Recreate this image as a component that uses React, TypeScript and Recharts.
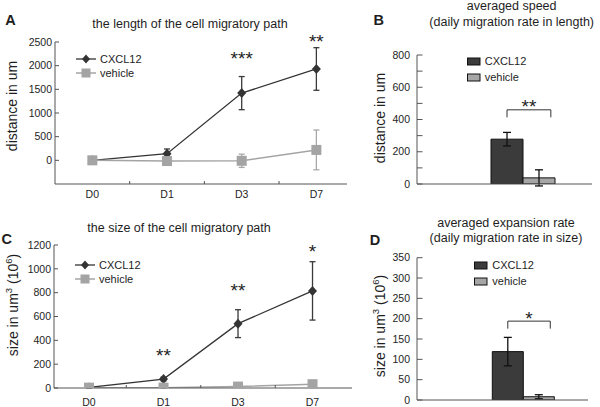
import React from "react";
import { LineChart, Line, BarChart, Bar, XAxis, YAxis, ErrorBar, Legend, LabelList } from "recharts";

const TEXT = "#1e1e1e";
const AXIS = "#555";
const DARK = "#343434";
const GREY = "#a4a4a4";
const FONT = "'Liberation Sans', Arial, sans-serif";

const days = ["D0", "D1", "D3", "D7"];

// A: length of the migratory path (um)
const lengthCxcl = [0, 140, 1420, 1930];
const lengthCxclErr = [15, 100, 350, 450];
const lengthVehicle = [0, -15, -10, 220];
const lengthVehicleErr = [15, 20, 140, 420];
const lengthStars = ["", "", "***", "**"];
const lengthStarY = [null, null, 2253, 2612];
const lengthTicks = [0, 500, 1000, 1500, 2000, 2500];

// C: size of the migratory path (um3, 10^6)
const sizeCxcl = [5, 75, 540, 815];
const sizeCxclErr = [3, 15, 117, 245];
const sizeVehicle = [3, 3, 12, 32];
const sizeVehicleErr = [2, 2, 6, 12];
const sizeStars = ["", "**", "**", "*"];
const sizeStarY = [null, 311, 852, 1186];
const sizeTicks = [0, 200, 400, 600, 800, 1000, 1200];

// B: averaged speed
const rateGroups = ["daily rate"];
const speedCxcl = [278];
const speedCxclErr = [42];
const speedVehicle = [38];
const speedVehicleErr = [50];
const speedStars = ["**"];
const speedBracket = [460];
const speedTicks = [0, 100, 200, 300, 400, 500, 600, 700, 800];

// D: averaged expansion rate
const expansionCxcl = [119];
const expansionCxclErr = [35];
const expansionVehicle = [8];
const expansionVehicleErr = [5];
const expansionStars = ["*"];
const expansionBracket = [194];
const expansionTicks = [0, 50, 100, 150, 200, 250, 300, 350];

const dayTickValues = [0, 0.5, 1, 1.5, 2, 2.5, 3];

const lineRows = (cx: number[], cxErr: number[], veh: number[], vehErr: number[], stars: string[], starY: (number | null)[]) =>
  days.map((d, i) => ({ x: i, day: d, cx: cx[i], cxErr: cxErr[i], veh: veh[i], vehErr: vehErr[i], sig: stars[i], starY: starY[i] }));

const barRows = (cx: number[], cxErr: number[], veh: number[], vehErr: number[]) =>
  rateGroups.map((g, i) => ({ group: g, cx: cx[i], cxErr: cxErr[i], veh: veh[i], vehErr: vehErr[i] }));

const lengthData = lineRows(lengthCxcl, lengthCxclErr, lengthVehicle, lengthVehicleErr, lengthStars, lengthStarY);
const sizeData = lineRows(sizeCxcl, sizeCxclErr, sizeVehicle, sizeVehicleErr, sizeStars, sizeStarY);
const speedData = barRows(speedCxcl, speedCxclErr, speedVehicle, speedVehicleErr);
const expansionData = barRows(expansionCxcl, expansionCxclErr, expansionVehicle, expansionVehicleErr);

const Diamond = (p: any) =>
  p.cx == null || p.cy == null ? null : (
    <path key={`dm-${p.index}`} d={`M${p.cx},${p.cy - 5}L${p.cx + 4.5},${p.cy}L${p.cx},${p.cy + 5}L${p.cx - 4.5},${p.cy}Z`} fill={DARK} />
  );

const Square = (p: any) =>
  p.cx == null || p.cy == null ? null : <rect key={`sq-${p.index}`} x={p.cx - 5} y={p.cy - 5} width={10} height={10} fill={GREY} />;

const dayTick = (labelDy: number) => (p: any) => {
  const v = p.payload.value;
  if (Number.isInteger(v)) {
    return (
      <text x={p.x} y={p.y + labelDy} textAnchor="middle" fontSize={10.5} fill={TEXT}>
        {days[v]}
      </text>
    );
  }
  return <line x1={p.x} x2={p.x} y1={p.y} y2={p.y - 3} stroke={AXIS} />;
};

const starLabel = (p: any) => {
  if (!p.value) return null;
  const x = p.x ?? p.viewBox?.x;
  const y = p.y ?? p.viewBox?.y;
  if (x == null || y == null) return null;
  return (
    <text x={x} y={y + 11} textAnchor="middle" fontSize={19} fill={TEXT}>
      {p.value}
    </text>
  );
};

const bracketLabel = (levels: number[], stars: string[]) => (p: any) => {
  const vb = p.viewBox ?? {};
  const x = p.x ?? vb.x;
  const y = p.y ?? vb.y;
  const width = p.width ?? vb.width;
  const height = p.height ?? vb.height;
  const index = p.index ?? 0;
  const value = typeof p.value === "number" ? p.value : speedCxcl[0];
  if (x == null || !height) return null;
  const base = y + height;
  const level = base - (levels[index] * height) / value;
  const x1 = x + width / 2;
  const x2 = x1 + width * 1.37;
  return (
    <g>
      <path d={`M${x1},${level + 7.5}V${level}H${x2}V${level + 7.5}`} fill="none" stroke="#333" strokeWidth={1} />
      <text x={(x1 + x2) / 2} y={level + 3.5} textAnchor="middle" fontSize={19} fill={TEXT}>
        {stars[index]}
      </text>
    </g>
  );
};

const yTitle = (content: React.ReactNode, cx: number, cy: number) => () => (
  <text x={cx} y={cy} transform={`rotate(-90 ${cx} ${cy})`} textAnchor="middle" dominantBaseline="central" fontSize={14} fill={TEXT}>
    {content}
  </text>
);

const sizeTitle = (
  <>
    size in um<tspan fontSize={9.5} dy={-5}>3</tspan>
    <tspan dy={5}> (10</tspan>
    <tspan fontSize={9.5} dy={-5}>6</tspan>
    <tspan dy={5}>)</tspan>
  </>
);

const shown = (payload: any[]) => (payload || []).filter((e: any) => e.type !== "none" && e.dataKey !== "starY");

function LineLegend({ payload }: any) {
  return (
    <div style={{ fontFamily: FONT }}>
      {shown(payload).map((entry: any, i: number) => (
        <div key={entry.value} style={{ display: "flex", alignItems: "center", height: 14 }}>
          <svg width={20} height={12}>
            <line x1={0} x2={20} y1={6} y2={6} stroke={entry.color} strokeWidth={i === 0 ? 1.3 : 1.5} />
            {i === 0 ? (
              <path d="M10,1.5L14,6L10,10.5L6,6Z" fill={entry.color} />
            ) : (
              <rect x={5.5} y={1.5} width={9} height={9} fill={entry.color} />
            )}
          </svg>
          <span style={{ marginLeft: 4, fontSize: 11, color: TEXT, lineHeight: "14px" }}>{entry.value}</span>
        </div>
      ))}
    </div>
  );
}

function BarLegend({ payload }: any) {
  return (
    <div style={{ fontFamily: FONT }}>
      {shown(payload).map((entry: any) => (
        <div key={entry.value} style={{ display: "flex", alignItems: "center", height: 15.6 }}>
          <svg width={14} height={9}>
            <rect x={0.5} y={1} width={12.5} height={7} fill={entry.color} stroke="#111" />
          </svg>
          <span style={{ marginLeft: 4, fontSize: 11, color: TEXT, lineHeight: "15px" }}>{entry.value}</span>
        </div>
      ))}
    </div>
  );
}

type LineProps = {
  data: any[];
  top: number;
  height: number;
  margin: { top: number; right: number; bottom: number; left: number };
  xDomain: [number, number];
  xHeight: number;
  labelDy: number;
  yDomain: [number, number];
  yTicks: number[];
  yLabel: () => React.ReactNode;
  legendTop: number;
  legendLeft: number;
};

function LinePanel(props: LineProps) {
  return (
    <div style={{ position: "absolute", left: 0, top: props.top }}>
      <LineChart width={370} height={props.height} data={props.data} margin={props.margin}>
        <XAxis
          type="number"
          dataKey="x"
          domain={props.xDomain}
          allowDataOverflow
          ticks={dayTickValues}
          interval={0}
          height={props.xHeight}
          tickSize={0}
          tickMargin={0}
          tickLine={false}
          axisLine={{ stroke: AXIS }}
          tick={dayTick(props.labelDy)}
        />
        <YAxis
          domain={props.yDomain}
          allowDataOverflow
          ticks={props.yTicks}
          interval={0}
          width={40}
          tickSize={-4}
          tickMargin={7}
          axisLine={{ stroke: AXIS }}
          tickLine={{ stroke: AXIS }}
          tick={{ fontSize: 10.5, fill: TEXT }}
          label={props.yLabel}
        />
        <Legend
          layout="vertical"
          align="center"
          verticalAlign="middle"
          wrapperStyle={{ left: props.legendLeft, top: props.legendTop }}
          content={(p: any) => <LineLegend payload={p.payload} />}
        />
        <Line dataKey="cx" name="CXCL12" stroke={DARK} strokeWidth={1.3} dot={Diamond} activeDot={false} isAnimationActive={false}>
          <ErrorBar dataKey="cxErr" direction="y" width={3} stroke="#3a3a3a" strokeWidth={1.3} />
        </Line>
        <Line dataKey="veh" name="vehicle" stroke={GREY} strokeWidth={1.5} dot={Square} activeDot={false} isAnimationActive={false}>
          <ErrorBar dataKey="vehErr" direction="y" width={3} stroke="#a8a8a8" strokeWidth={1.3} />
        </Line>
        <Line dataKey="starY" stroke="none" dot={false} activeDot={false} legendType="none" isAnimationActive={false}>
          <LabelList dataKey="sig" content={starLabel} />
        </Line>
      </LineChart>
    </div>
  );
}

type BarProps = {
  data: any[];
  top: number;
  height: number;
  margin: { top: number; right: number; bottom: number; left: number };
  padding: { left: number; right: number };
  xHeight: number;
  yDomain: [number, number];
  yTicks: number[];
  labelEvery: number;
  yLabel: () => React.ReactNode;
  legendTop: number;
  legendLeft: number;
  bracket: number[];
  stars: string[];
};

function BarPanel(props: BarProps) {
  return (
    <div style={{ position: "absolute", left: 370, top: props.top }}>
      <BarChart width={230} height={props.height} data={props.data} margin={props.margin} barCategoryGap={0} barGap={0}>
        <XAxis
          dataKey="group"
          padding={props.padding}
          height={props.xHeight}
          tick={false}
          tickLine={false}
          axisLine={{ stroke: AXIS }}
        />
        <YAxis
          domain={props.yDomain}
          allowDataOverflow
          ticks={props.yTicks}
          interval={0}
          width={30}
          tickSize={-5.5}
          tickMargin={12.5}
          axisLine={{ stroke: AXIS }}
          tickLine={{ stroke: AXIS }}
          tick={{ fontSize: 10.5, fill: TEXT }}
          tickFormatter={(v: number) => (v % props.labelEvery === 0 ? String(v) : "")}
          label={props.yLabel}
        />
        <Legend
          layout="vertical"
          align="center"
          verticalAlign="middle"
          wrapperStyle={{ left: props.legendLeft, top: props.legendTop }}
          content={(p: any) => <BarLegend payload={p.payload} />}
        />
        <Bar dataKey="cx" name="CXCL12" fill="#3b3b3b" stroke="#111" strokeWidth={1} isAnimationActive={false} label={bracketLabel(props.bracket, props.stars)}>
          <ErrorBar dataKey="cxErr" direction="y" width={4} stroke="#111" strokeWidth={1.3} />
        </Bar>
        <Bar dataKey="veh" name="vehicle" fill="#a6a6a6" stroke="#111" strokeWidth={1} isAnimationActive={false}>
          <ErrorBar dataKey="vehErr" direction="y" width={4} stroke="#111" strokeWidth={1.3} />
        </Bar>
      </BarChart>
    </div>
  );
}

export default function App() {
  return (
    <div style={{ position: "absolute", left: 0, top: 0, width: 600, height: 407, background: "#fff", fontFamily: FONT, overflow: "hidden" }}>
      <svg width={600} height={407} style={{ position: "absolute", left: 0, top: 0 }} fontFamily={FONT} fill={TEXT}>
        <text x={10.5} y={20} textAnchor="middle" dominantBaseline="central" fontSize={14.5} fontWeight="bold">A</text>
        <text x={378.8} y={20} textAnchor="middle" dominantBaseline="central" fontSize={14.5} fontWeight="bold">B</text>
        <text x={6.7} y={238.7} textAnchor="middle" dominantBaseline="central" fontSize={14.5} fontWeight="bold">C</text>
        <text x={375} y={240.3} textAnchor="middle" dominantBaseline="central" fontSize={14.5} fontWeight="bold">D</text>
        <text x={190} y={24} textAnchor="middle" dominantBaseline="central" fontSize={12.5}>the length of the cell migratory path</text>
        <text x={511.7} y={6} textAnchor="middle" dominantBaseline="central" fontSize={12.5}>averaged speed</text>
        <text x={511.7} y={21.7} textAnchor="middle" dominantBaseline="central" fontSize={12.5}>(daily migration rate in length)</text>
        <text x={179} y={228} textAnchor="middle" dominantBaseline="central" fontSize={12.5}>the size of the cell migratory path</text>
        <text x={506} y={223.3} textAnchor="middle" dominantBaseline="central" fontSize={12.5}>averaged expansion rate</text>
        <text x={506} y={238.3} textAnchor="middle" dominantBaseline="central" fontSize={12.5}>(daily migration rate in size)</text>
      </svg>
      <LinePanel
        data={lengthData}
        top={0}
        height={205}
        margin={{ top: 42, right: 23, bottom: 1, left: 15 }}
        xDomain={[-0.5, 3.41]}
        xHeight={20}
        labelDy={13.5}
        yDomain={[-500, 2500]}
        yTicks={lengthTicks}
        yLabel={yTitle("distance in um", 12, 106)}
        legendLeft={76}
        legendTop={52.3}
      />
      <LinePanel
        data={sizeData}
        top={205}
        height={202}
        margin={{ top: 40, right: 18, bottom: 1, left: 14 }}
        xDomain={[-0.47, 3.53]}
        xHeight={18}
        labelDy={17.5}
        yDomain={[0, 1200]}
        yTicks={sizeTicks}
        yLabel={yTitle(sizeTitle, 13.3, 100)}
        legendLeft={75}
        legendTop={53}
      />
      <BarPanel
        data={speedData}
        top={0}
        height={205}
        margin={{ top: 55, right: 8, bottom: 11, left: 17 }}
        padding={{ left: 74, right: 36.3 }}
        xHeight={10}
        yDomain={[0, 800]}
        yTicks={speedTicks}
        labelEvery={200}
        yLabel={yTitle("distance in um", 10, 118)}
        legendLeft={96.7}
        legendTop={53.9}
        bracket={speedBracket}
        stars={speedStars}
      />
      <BarPanel
        data={expansionData}
        top={205}
        height={202}
        margin={{ top: 52.7, right: 12, bottom: 2, left: 17 }}
        padding={{ left: 75.3, right: 34 }}
        xHeight={5}
        yDomain={[0, 350]}
        yTicks={expansionTicks}
        labelEvery={50}
        yLabel={yTitle(sizeTitle, 10, 121)}
        legendLeft={104.3}
        legendTop={53.2}
        bracket={expansionBracket}
        stars={expansionStars}
      />
    </div>
  );
}
